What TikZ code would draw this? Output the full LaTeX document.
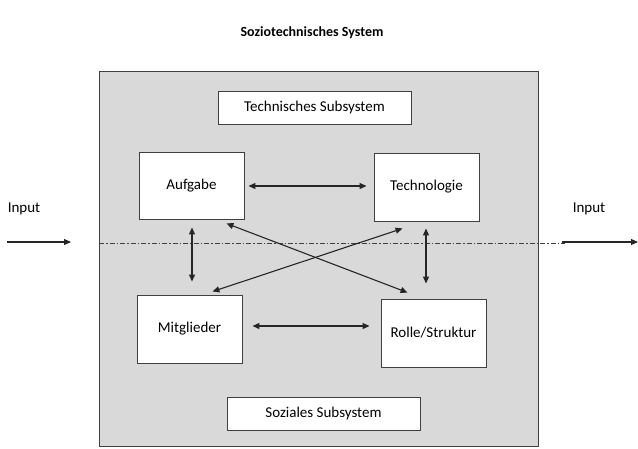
\documentclass[tikz,border=0pt]{standalone}
\usepackage{fontspec}
\setmainfont{Carlito}
\usetikzlibrary{arrows.meta,calc}
\definecolor{boxgray}{HTML}{D9D9D9}
\definecolor{edge}{HTML}{404040}
\tikzset{
  box/.style={draw=edge,line width=0.9pt,fill=white,inner sep=0pt,font=\fontsize{15}{17}\selectfont},
  arr/.style={line width=1.1pt,draw=black!85,{Triangle[length=7pt,width=6pt]}-{Triangle[length=7pt,width=6pt]}},
  onearr/.style={line width=1.1pt,draw=black!85,-{Triangle[length=7pt,width=6pt]}},
  lbl/.style={font=\fontsize{15}{17}\selectfont,inner sep=0pt}
}
\begin{document}
\begin{tikzpicture}[x=1pt,y=-1pt]
\useasboundingbox[fill=white] (0,0) rectangle (638,448);
\node[font=\bfseries\fontsize{14}{16}\selectfont,inner sep=0pt] (title) at (312,33) {Soziotechnisches System};
\node[draw=edge,line width=0.9pt,fill=boxgray,minimum width=439pt,minimum height=375pt,inner sep=0pt] (sys) at (318.5,258.5) {};
\node[box,minimum width=193pt,minimum height=33pt] (tech) at (314.5,107.5) {Technisches Subsystem};
\node[box,minimum width=193pt,minimum height=33pt] (soz) at (323.5,413.5) {Soziales Subsystem};
\node[box,minimum width=105pt,minimum height=67pt] (A) at (191.5,185.5) {Aufgabe};
\node[box,minimum width=105pt,minimum height=68pt] (T) at (426.5,187) {Technologie};
\node[box,minimum width=105pt,minimum height=68pt] (M) at (189.5,329) {Mitglieder};
\node[box,minimum width=105pt,minimum height=68pt] (R) at (433.5,333) {Rolle/Struktur};
\coordinate (dl) at (99,243);
\coordinate (dr) at (565,243);
\draw[edge,line width=0.9pt,dash pattern=on 5pt off 2pt on 1.5pt off 2pt] (dl) -- (dr);
\node[lbl] (inL) at (24,209) {Input};
\node[lbl] (inR) at (589,209) {Input};
\coordinate (aL1) at (7,242);
\coordinate (aL2) at (71,242);
\coordinate (aR1) at (562,242);
\coordinate (aR2) at (638,242);
\draw[onearr] (aL1) -- (aL2);
\draw[onearr] (aR1) -- (aR2);
\draw[arr] ($(A.east)+(4,0.5)$) -- ($(T.west)+(-7,-1)$);
\draw[arr] ($(M.east)+(10,-3)$) -- ($(R.west)+(-11,-7)$);
\draw[arr] ($(A.south)+(0.5,8)$) -- ($(M.north)+(2.5,-13)$);
\draw[arr] ($(T.south)+(-0.5,7)$) -- ($(R.north)+(-7.5,-15)$);
\draw[arr] ($(A.south east)+(-18,4)$) -- ($(R.north west)+(27,-6)$);
\draw[arr] ($(T.south west)+(29,7)$) -- ($(M.north east)+(-30,-3)$);
\end{tikzpicture}
\end{document}
